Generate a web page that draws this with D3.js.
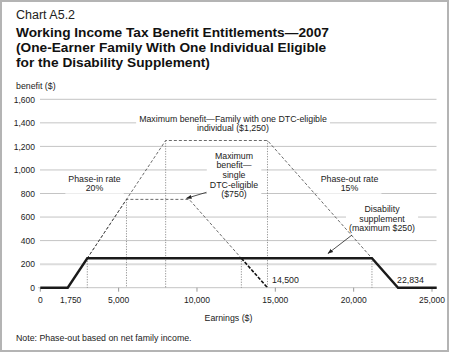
<!DOCTYPE html>
<html><head><meta charset="utf-8">
<script src="https://cdn.jsdelivr.net/npm/d3@7"></script>
<style>
html,body{margin:0;padding:0;background:#fff;}
svg{display:block;font-family:"Liberation Sans",Arial,Helvetica,sans-serif;}
</style></head>
<body>
<svg id="c" width="450" height="353"></svg>
<script>
// ---- data ----
const yTicks = [0,200,400,600,800,1000,1200,1400,1600];
const xTicks = [0,1750,5000,10000,15000,20000,25000];
const xTickMarks = [0,5000,10000,15000,20000,25000];
// disability supplement (thick line)
const supplementX = [0,1750,3000,21167,22834,25300];
const supplementY = [0,0,250,250,0,0];
// family with one DTC-eligible individual, max $1,250 (dashed)
const familyX = [1750,8000,14500,21167];
const familyY = [0,1250,1250,250];
// single DTC-eligible, max $750 (dashed)
const singleX = [1750,5500,9500,12833];
const singleY = [0,750,750,250];
const singleLowX = [12833,14500];
const singleLowY = [250,0];
// vertical dotted guide lines: [x, top value]
const guideX = [3000,5500,8000,12833,14500,21167];
const guideTop = [250,750,1250,250,1250,250];

const FS = 8.8;
const svg = d3.select("#c");
const x = d3.scaleLinear().domain([0,25000]).range([40.3,432]);
const y = d3.scaleLinear().domain([0,1600]).range([287.7,99.3]);

// frame
svg.append("rect").attr("x",1).attr("y",1).attr("width",447).attr("height",350)
  .attr("fill","#fff").attr("stroke","#b4b4b4").attr("stroke-width",2);

// titles
svg.append("text").attr("x",16).attr("y",18.5).attr("font-size",12.5).attr("fill","#222").text("Chart A5.2");
const titles = ["Working Income Tax Benefit Entitlements\u20142007","(One-Earner Family With One Individual Eligible","for the Disability Supplement)"];
titles.forEach((t,i)=>svg.append("text").attr("x",16).attr("y",37.3+i*14.7)
  .attr("font-size",13.7).attr("font-weight","bold").attr("fill","#111").text(t));
svg.append("text").attr("x",16).attr("y",89).attr("font-size",FS).attr("fill","#222").text("benefit ($)");

// gridlines
const grid = svg.append("g");
yTicks.forEach(v=>{
  grid.append("line").attr("x1",v===0?38:40).attr("x2",436.5).attr("y1",y(v)).attr("y2",y(v))
    .attr("stroke", v===200?"#dcdcdc":"#c4c4c4").attr("stroke-width", v===200?2:1);
});
// y tick labels
svg.append("g").selectAll("text").data(yTicks).join("text")
  .attr("x",35).attr("y",d=>y(d)+3.2).attr("text-anchor","end").attr("font-size",8.5).attr("fill","#222")
  .text(d=>d3.format(",")(d));
// x tick marks
svg.append("g").selectAll("line").data(xTickMarks).join("line")
  .attr("x1",d=>x(d)).attr("x2",d=>x(d)).attr("y1",y(0)).attr("y2",y(0)+4)
  .attr("stroke","#999").attr("stroke-width",1);
// x tick labels
svg.append("g").selectAll("text").data(xTicks).join("text")
  .attr("x",d=>x(d)+(d===1750?3:0)).attr("y",303.2).attr("text-anchor","middle").attr("font-size",8.5).attr("fill","#222")
  .text(d=>d3.format(",")(d));
svg.append("text").attr("x",228.5).attr("y",320.5).attr("text-anchor","middle").attr("font-size",FS).attr("fill","#222").text("Earnings ($)");
svg.append("text").attr("x",16).attr("y",341.3).attr("font-size",FS).attr("fill","#222").text("Note: Phase-out based on net family income.");

// label helper with white background
function label(lines, cx, cy0, lh){
  const g = svg.append("g");
  const bg = g.append("rect").attr("fill","#fff");
  const t = g.append("g");
  lines.forEach((s,i)=>t.append("text").attr("x",cx).attr("y",cy0+i*lh).attr("text-anchor","middle")
    .attr("font-size",FS).attr("fill","#222").text(s));
  const b = t.node().getBBox();
  bg.attr("x",b.x-3).attr("y",b.y-0.5).attr("width",b.width+6).attr("height",b.height+1);
  return g;
}

// guides
const line = d3.line().x(d=>x(d[0])).y(d=>y(d[1]));
guideX.forEach((gx,i)=>{
  svg.append("line").attr("x1",x(gx)).attr("x2",x(gx)).attr("y1",y(guideTop[i])).attr("y2",y(0))
    .attr("stroke","#777").attr("stroke-width",0.8).attr("stroke-dasharray","1.2,1.4");
});

// labels (backgrounds cut gridlines)
label(["Maximum benefit\u2014Family with one DTC-eligible","individual ($1,250)"],233,121.5,9.6);
label(["Phase-in rate","20%"],94.5,182,9.2);
label(["Phase-out rate","15%"],349.5,182,9.2);
label(["Maximum","benefit\u2014","single","DTC-eligible","($750)"],234,158.8,9.6);
label(["Disability","supplement","(maximum $250)"],382,212,9.6);

// dashed benefit lines
const zip = (a,b)=>a.map((v,i)=>[v,b[i]]);
svg.append("path").attr("d",line(zip(familyX,familyY))).attr("fill","none")
  .attr("stroke","#444").attr("stroke-width",0.8).attr("stroke-dasharray","3,2");
svg.append("path").attr("d",line(zip(singleX,singleY))).attr("fill","none")
  .attr("stroke","#444").attr("stroke-width",0.8).attr("stroke-dasharray","3,2");
svg.append("path").attr("d",line(zip(singleLowX,singleLowY))).attr("fill","none")
  .attr("stroke","#111").attr("stroke-width",1.6).attr("stroke-dasharray","3.5,1.5");

// thick supplement line
svg.append("path").attr("d",line(zip(supplementX,supplementY))).attr("fill","none")
  .attr("stroke","#1a1a1a").attr("stroke-width",2.4).attr("stroke-linejoin","miter");

// arrows
const defs = svg.append("defs");
defs.append("marker").attr("id","ah").attr("viewBox","0 0 10 10").attr("refX",9).attr("refY",5)
  .attr("markerWidth",7).attr("markerHeight",7).attr("orient","auto")
  .append("path").attr("d","M0,1.5 L10,5 L0,8.5 Z").attr("fill","#222");
svg.append("line").attr("x1",206.5).attr("y1",192.3).attr("x2",186.5).attr("y2",198.3)
  .attr("stroke","#222").attr("stroke-width",0.8).attr("marker-end","url(#ah)");
svg.append("line").attr("x1",352).attr("y1",235).attr("x2",328).attr("y2",253.5)
  .attr("stroke","#222").attr("stroke-width",0.8).attr("marker-end","url(#ah)");

// end labels
svg.append("text").attr("x",272).attr("y",283.3).attr("font-size",FS).attr("fill","#222").text("14,500");
svg.append("text").attr("x",397).attr("y",283.3).attr("font-size",FS).attr("fill","#222").text("22,834");
</script>
</body></html>
